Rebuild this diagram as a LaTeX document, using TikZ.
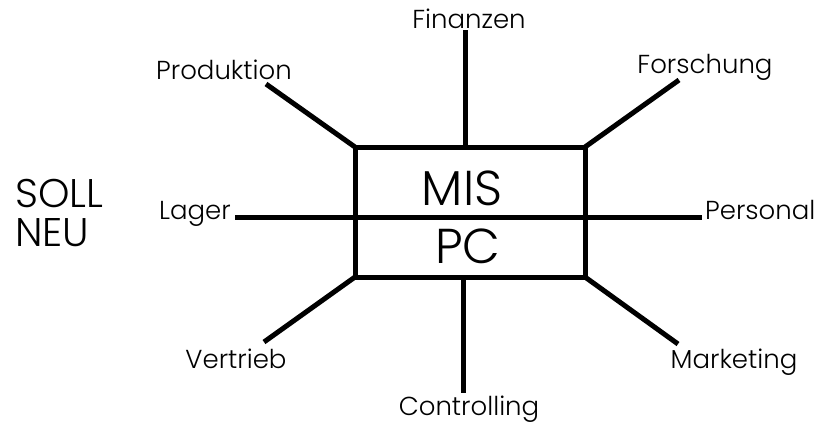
\documentclass[tikz,border=0pt]{standalone}
\usepackage{fontspec}
\setmainfont{Poppins}[UprightFont=* Light]
\begin{document}
\begin{tikzpicture}[x=1pt,y=-1pt,
  spoke/.style={line width=5pt},
  frame/.style={line width=5pt, line join=miter},
  lbl/.style={inner sep=0pt, anchor=base, font=\fontsize{26}{26}\selectfont},
  big/.style={inner sep=0pt, anchor=base, font=\fontsize{49}{49}\selectfont},
  side/.style={inner sep=0pt, anchor=base west, font=\fontsize{40}{40}\selectfont}]
\useasboundingbox (0,0) rectangle (816,426);
% central box MIS / PC
\coordinate (tl) at (355,147);
\coordinate (tr) at (585,147);
\coordinate (bl) at (355,277);
\coordinate (br) at (585,277);
\coordinate (tm) at (465,147);
\coordinate (bm) at (463,277);
\draw[frame] (tl) rectangle (br);
\node[big] (mis) at (462,205) {MIS};
\node[big] (pc) at (468,263) {PC};
% spoke ends
\coordinate (eFin) at (465,30);
\coordinate (eProd) at (266,84);
\coordinate (eFor) at (679,80);
\coordinate (eLag) at (235,217);
\coordinate (ePers) at (702,217);
\coordinate (eVer) at (264,342);
\coordinate (eCon) at (463,393);
\coordinate (eMar) at (678,344);
\draw[spoke] (tm) -- (eFin);
\draw[spoke] (tl) -- (eProd);
\draw[spoke] (tr) -- (eFor);
\draw[spoke] (eLag) -- (ePers);
\draw[spoke] (bl) -- (eVer);
\draw[spoke] (bm) -- (eCon);
\draw[spoke] (br) -- (eMar);
% labels
\node[lbl] (fin) at (469,28) {Finanzen};
\node[lbl] (prod) at (224,79) {Produktion};
\node[lbl] (for) at (705,73) {Forschung};
\node[lbl, anchor=base east] (lag) at (231,219) {Lager};
\node[lbl, anchor=base west] (pers) at (705,219) {Personal};
\node[lbl] (ver) at (236,368) {Vertrieb};
\node[lbl] (con) at (469,415) {Controlling};
\node[lbl] (mar) at (734,368) {Marketing};
\node[side] (soll) at (15,207) {SOLL};
\node[side] (neu) at (15,246) {NEU};
\end{tikzpicture}
\end{document}
